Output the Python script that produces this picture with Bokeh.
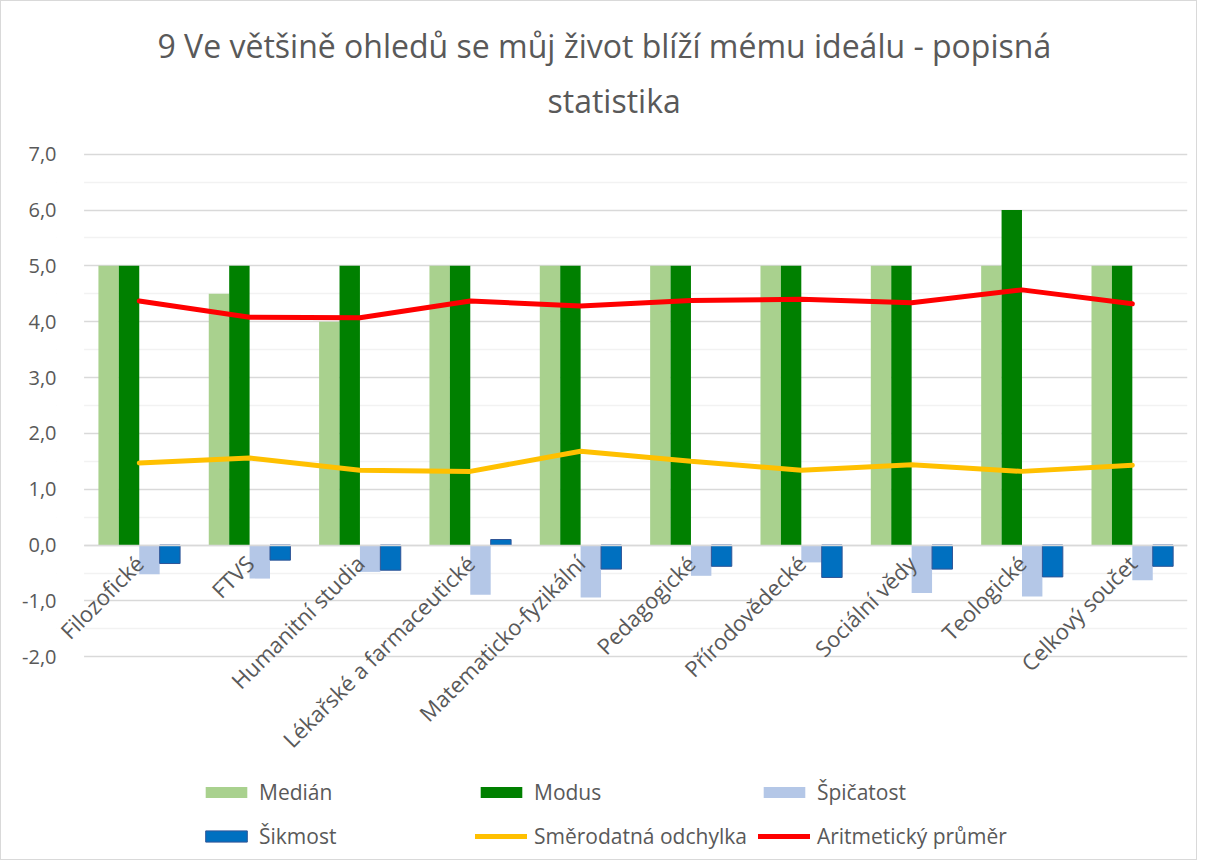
import math
from bokeh.plotting import figure
from bokeh.models import (FixedTicker, Legend, LegendItem, Range1d, Title, BoxAnnotation)
from bokeh.transform import dodge
from bokeh.embed import file_html
from bokeh.resources import INLINE

categories = ["Filozofické", "FTVS", "Humanitní studia", "Lékařské a farmaceutické",
              "Matematicko-fyzikální", "Pedagogické", "Přírodovědecké", "Sociální vědy",
              "Teologické", "Celkový součet"]
median = [5.0, 4.5, 4.0, 5.0, 5.0, 5.0, 5.0, 5.0, 5.0, 5.0]
modus = [5.0, 5.0, 5.0, 5.0, 5.0, 5.0, 5.0, 5.0, 6.0, 5.0]
spicatost = [-0.52, -0.60, -0.48, -0.89, -0.94, -0.55, -0.31, -0.86, -0.92, -0.63]
sikmost = [-0.33, -0.27, -0.45, 0.10, -0.43, -0.38, -0.58, -0.43, -0.57, -0.38]
smer_odchylka = [1.47, 1.56, 1.34, 1.32, 1.68, 1.50, 1.34, 1.44, 1.32, 1.43]
prumer = [4.37, 4.08, 4.07, 4.37, 4.28, 4.38, 4.40, 4.34, 4.57, 4.32]
y_ticks = [-2, -1, 0, 1, 2, 3, 4, 5, 6, 7]
y_labels = ["-2,0", "-1,0", "0,0", "1,0", "2,0", "3,0", "4,0", "5,0", "6,0", "7,0"]

FONT = "Open Sans"
TXT = "#595959"

# category centres on a numeric scale (index + 0.5), labelled with the category names
xc = [i + 0.5 for i in range(len(categories))]

p = figure(width=1197, height=860, output_backend="svg", toolbar_location=None,
           x_range=Range1d(-0.25, len(categories)),
           y_range=Range1d(-5.63, 7.03),
           min_border_left=55, min_border_right=11, min_border_top=151, min_border_bottom=2)
p.styles = {"border": "1px solid #d9d9d9"}
p.outline_line_color = None

p.title.text = "9 Ve většině ohledů se můj život blíží mému ideálu - popisná"
p.title.align = "left"
p.title.offset = 101
p.title.text_font = FONT
p.title.text_font_size = "32px"
p.title.text_font_style = "normal"
p.title.text_color = TXT
p.title.standoff = -40
t2 = Title(text="statistika", align="left", offset=491, text_font=FONT, text_font_size="32px",
           text_font_style="normal", text_color=TXT, standoff=61)
p.add_layout(t2, "above")

w = 0.185
src = dict(x=xc, median=median, modus=modus, spic=spicatost, sik=sikmost,
           sd=smer_odchylka, mean=prumer)
r1 = p.vbar(x=dodge("x", -1.5 * w), top="median", width=w, source=src,
            fill_color="#a9d18e", line_color=None)
r2 = p.vbar(x=dodge("x", -0.5 * w), top="modus", width=w, source=src,
            fill_color="#008000", line_color=None)
r3 = p.vbar(x=dodge("x", 0.5 * w), top="spic", width=w, source=src,
            fill_color="#b4c7e7", line_color=None)
r4 = p.vbar(x=dodge("x", 1.5 * w), top="sik", width=w, source=src,
            fill_color="#0070c0", line_color="#2f5597", line_width=1)
r5 = p.line(x="x", y="sd", source=src, line_color="#ffc000", line_width=5, line_cap="round")
r6 = p.line(x="x", y="mean", source=src, line_color="#ff0000", line_width=5, line_cap="round")

# axes
p.yaxis.ticker = FixedTicker(ticks=y_ticks, minor_ticks=[t + 0.5 for t in y_ticks[:-1]])
p.yaxis.major_label_overrides = {t: l for t, l in zip(y_ticks, y_labels)}
p.yaxis.axis_line_color = None
p.yaxis.major_tick_line_color = None
p.yaxis.minor_tick_line_color = None
p.yaxis.major_label_text_font = FONT
p.yaxis.major_label_text_font_size = "20px"
p.yaxis.major_label_text_color = TXT
p.yaxis.major_label_standoff = -6

p.ygrid.grid_line_color = "#d9d9d9"
p.ygrid.grid_line_width = 1.5
p.ygrid.minor_grid_line_color = "#f2f2f2"
p.ygrid.minor_grid_line_width = 1.5
p.xgrid.grid_line_color = None

# hide the grid in the small strip left of the first category (kept only for label room)
p.add_layout(BoxAnnotation(right=0, fill_color="white", fill_alpha=1, line_color=None,
                           level="underlay"))

p.xaxis.fixed_location = 0
p.xaxis.bounds = (0, len(categories))
p.xaxis.ticker = FixedTicker(ticks=xc, minor_ticks=[])
p.xaxis.major_label_overrides = {x: c for x, c in zip(xc, categories)}
p.xaxis.axis_line_color = "#d9d9d9"
p.xaxis.axis_line_width = 1.5
p.xaxis.major_tick_line_color = None
p.xaxis.minor_tick_line_color = None
p.xaxis.major_label_orientation = math.pi / 4
p.xaxis.major_label_text_font = FONT
p.xaxis.major_label_text_font_size = "22px"
p.xaxis.major_label_text_color = TXT
p.xaxis.major_label_standoff = 8

legend = Legend(items=[
    LegendItem(label="Medián", renderers=[r1]),
    LegendItem(label="Modus", renderers=[r2]),
    LegendItem(label="Špičatost", renderers=[r3]),
    LegendItem(label="Šikmost", renderers=[r4]),
    LegendItem(label="Směrodatná odchylka", renderers=[r5]),
    LegendItem(label="Aritmetický průměr", renderers=[r6]),
], orientation="horizontal", ncols=3, location=(144, 7),
    glyph_width=52, glyph_height=14, label_standoff=7, label_width=205, label_height=33,
    spacing=11, padding=0, margin=0, border_line_color=None, background_fill_alpha=0,
    label_text_font=FONT, label_text_font_size="21px", label_text_color=TXT)
p.add_layout(legend, "center")

open("out.html", "w").write(file_html(p, INLINE))
